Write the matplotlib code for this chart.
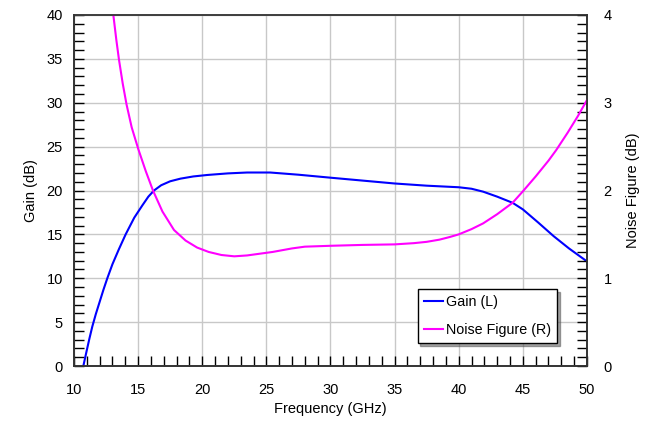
import matplotlib
matplotlib.use('Agg')
from matplotlib import pyplot as plt
from matplotlib.ticker import MultipleLocator

plt.rcParams['font.family'] = ['Liberation Sans', 'DejaVu Sans']

gain_freq = [10.73, 11.0, 11.2, 11.43, 11.7, 12.0, 12.3, 12.6, 13.0, 13.5, 14.03, 14.7, 15.33, 15.8,
             16.24, 16.8, 17.5, 18.3, 19.3, 20.4, 22, 23.5, 25.3, 27.5, 30, 32.5, 35, 37.5, 40, 41,
             41.9, 43, 44.2, 45, 46.2, 47.4, 48.6, 49.85, 50]
gain_db = [0, 1.8, 3.1, 4.5, 5.9, 7.3, 8.7, 10.0, 11.6, 13.3, 15.0, 16.9, 18.3, 19.3,
           20.0, 20.6, 21.05, 21.35, 21.6, 21.77, 21.95, 22.05, 22.05, 21.8, 21.46, 21.13, 20.8, 20.55, 20.37, 20.2,
           19.87, 19.3, 18.6, 17.85, 16.35, 14.8, 13.4, 12.08, 11.9]

nf_freq = [13.07, 13.3, 13.51, 13.8, 14.1, 14.5, 15.02, 15.6, 16.16, 16.9, 17.8, 18.7, 19.6, 20.5, 21.5,
           22.5, 23.5, 24.5, 25.5, 27, 28, 30, 32.5, 35, 36.5, 37.5, 38.5, 39.3, 40, 41, 41.9, 43, 44.2,
           45, 46, 47, 47.6, 48.5, 49.3, 50]
nf_db = [4.0, 3.72, 3.49, 3.22, 2.98, 2.72, 2.47, 2.22, 2.0, 1.76, 1.55, 1.43, 1.35, 1.30, 1.265,
         1.25, 1.26, 1.28, 1.30, 1.34, 1.36, 1.37, 1.38, 1.386, 1.40, 1.415, 1.44, 1.47, 1.50, 1.56, 1.625,
         1.73, 1.86, 1.99, 2.16, 2.34, 2.46, 2.66, 2.85, 3.03]

fig = plt.figure(figsize=(6.5, 4.21), dpi=100)
ax = fig.add_axes([0.1138, 0.1306, 0.7892, 0.8338])
ax2 = ax.twinx()

ax.grid(True, color='#c8c8c8', linewidth=1)
ax.set_axisbelow(True)

l1, = ax.plot(gain_freq, gain_db, color='#0000ff', linewidth=1.5, label='Gain (L)')
l2, = ax2.plot(nf_freq, nf_db, color='#ff00ff', linewidth=1.5, label='Noise Figure (R)')

ax.set_xlim(10, 50)
ax.set_ylim(0, 40)
ax2.set_ylim(0, 4)

ax.xaxis.set_major_locator(MultipleLocator(5))
ax.xaxis.set_minor_locator(MultipleLocator(1))
ax.yaxis.set_major_locator(MultipleLocator(5))
ax.yaxis.set_minor_locator(MultipleLocator(1))
ax2.yaxis.set_major_locator(MultipleLocator(1))
ax2.yaxis.set_minor_locator(MultipleLocator(0.1))

ax.tick_params(axis='both', which='both', direction='in', length=7, width=1, labelsize=10.5, pad=8)
ax.tick_params(axis='x', pad=12)
ax2.tick_params(axis='y', which='both', direction='in', length=7, width=1, labelsize=10.5, pad=12)

for a in (ax, ax2):
    for s in a.spines.values():
        s.set_color('#333333')
        s.set_linewidth(1.2)
ax.spines['top'].set_color('#777777')

ax.set_xlabel('Frequency (GHz)', fontsize=10.5)
ax.set_ylabel('Gain (dB)', fontsize=10.5, labelpad=6)
ax2.set_ylabel('Noise Figure (dB)', fontsize=10.5, labelpad=10)

leg = ax2.legend(handles=[l1, l2], loc='lower left', bbox_to_anchor=(0.67, 0.065), borderaxespad=0,
                 fancybox=False, shadow=True, framealpha=1, edgecolor='black',
                 fontsize=10.3, handlelength=1.3, handletextpad=0.2, borderpad=0.45, labelspacing=0.95)
leg.get_frame().set_linewidth(1)

fig.savefig('out.png', dpi=100)
